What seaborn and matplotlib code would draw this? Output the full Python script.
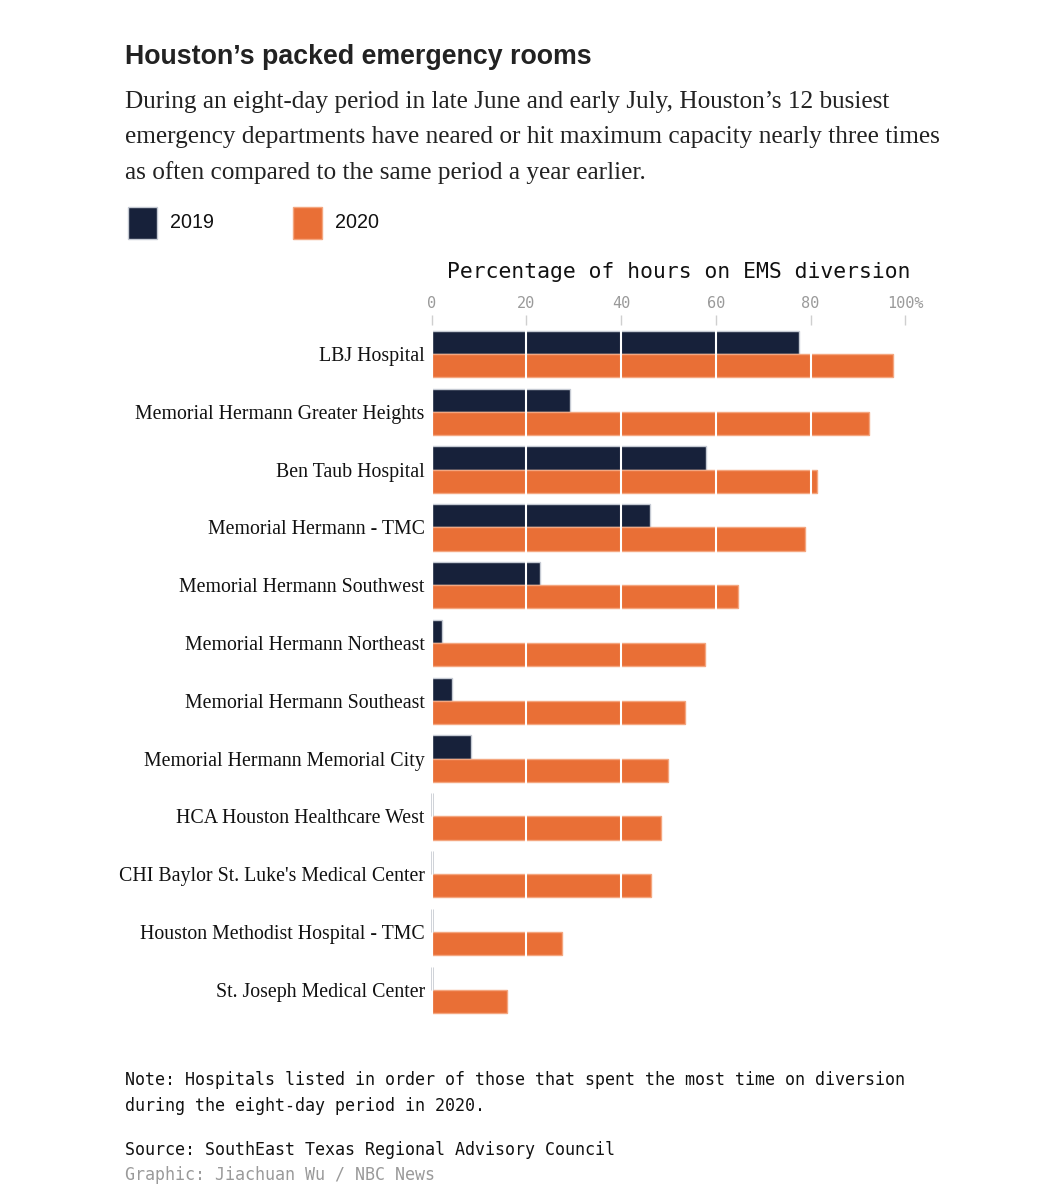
import matplotlib
matplotlib.use("Agg")
import matplotlib.pyplot as plt
import seaborn as sns
import pandas as pd
from matplotlib.patches import Rectangle

hospitals = [
    "LBJ Hospital",
    "Memorial Hermann Greater Heights",
    "Ben Taub Hospital",
    "Memorial Hermann - TMC",
    "Memorial Hermann Southwest",
    "Memorial Hermann Northeast",
    "Memorial Hermann Southeast",
    "Memorial Hermann Memorial City",
    "HCA Houston Healthcare West",
    "CHI Baylor St. Luke's Medical Center",
    "Houston Methodist Hospital - TMC",
    "St. Joseph Medical Center",
]
values_2019 = [77.6, 29.3, 58.0, 46.0, 22.9, 2.2, 4.3, 8.4, 0, 0, 0, 0]
values_2020 = [97.5, 92.4, 81.4, 78.9, 64.6, 57.8, 53.5, 50.0, 48.4, 46.3, 27.6, 15.9]
years = ["2019", "2020"]
tick_values = [0, 20, 40, 60, 80, 100]
tick_labels = ["0", "20", "40", "60", "80", "100%"]

C19 = "#17213a"
C20 = "#e96f36"
E19 = "#c5cad3"
E20 = "#f4a67f"

df = pd.DataFrame({
    "hospital": hospitals * 2,
    "year": [years[0]] * len(hospitals) + [years[1]] * len(hospitals),
    "value": values_2019 + values_2020,
})

W, H = 1047, 1191
fig = plt.figure(figsize=(W / 100, H / 100), dpi=100)
fig.patch.set_facecolor("white")

def fx(x):
    return x / W

def fy(y):
    return 1 - y / H

ax_left, ax_right, ax_top, ax_bot = 431.7, 905.2, 325.1, 1018.7
ax = fig.add_axes([fx(ax_left), fy(ax_bot), (ax_right - ax_left) / W, (ax_bot - ax_top) / H])

sns.barplot(data=df, y="hospital", x="value", hue="year", order=hospitals,
            hue_order=years, palette={years[0]: C19, years[1]: C20},
            orient="h", width=0.8, ax=ax, legend=False, saturation=1)

for cont, ec in zip(ax.containers, [E19, E20]):
    for bar in cont:
        bar.set_edgecolor(ec)
        bar.set_linewidth(1.0)
        bar.set_zorder(2)
# zero-valued 2019 bars appear as a thin gray stub at the bar's position
for bar, v in zip(ax.containers[0], values_2019):
    if v == 0:
        y0 = bar.get_y()
        ax.vlines(bar.get_x(), y0, y0 + bar.get_height(), color="#c3c7ce",
                  linewidth=1.8, zorder=2, clip_on=False)

ax.set_xlim(0, 100)
ax.set_ylim(11.5, -0.5)
for s in ax.spines.values():
    s.set_visible(False)
ax.set_facecolor("none")

ax.xaxis.tick_top()
ax.set_xticks(tick_values)
ax.set_xticklabels(tick_labels, family="DejaVu Sans Mono", fontsize=11, color="#9a9a9a")
ax.tick_params(axis="x", length=7, width=1, color="#cfcfcf", pad=3)
ax.tick_params(axis="y", length=0, pad=5)
for lab in ax.get_yticklabels():
    lab.set_family("Liberation Serif")
    lab.set_fontsize(14.3)
    lab.set_color("#111111")
ax.set_xlabel("")
ax.set_ylabel("")

ax.grid(axis="x", color="white", linewidth=1.5, zorder=3)
ax.grid(axis="y", visible=False)
ax.set_axisbelow(False)

# Axis title
fig.text(fx(678.5), fy(272), "Percentage of hours on EMS diversion",
         family="DejaVu Sans Mono", fontsize=15.4, color="#111111",
         ha="center", va="center")

# Title and subtitle
fig.text(fx(125), fy(64), "Houston\u2019s packed emergency rooms",
         family=["Liberation Sans Narrow", "Liberation Sans"], fontweight="bold",
         fontsize=19.3, color="#222222", ha="left", va="baseline")
sub = ["During an eight-day period in late June and early July, Houston\u2019s 12 busiest",
       "emergency departments have neared or hit maximum capacity nearly three times",
       "as often compared to the same period a year earlier."]
for i, line in enumerate(sub):
    fig.text(fx(125), fy(108 + 35.5 * i), line, family="Liberation Serif",
             fontsize=18.2, color="#222222", ha="left", va="baseline")

# Legend
for x0, col, ec, lab in [(128, C19, E19, years[0]), (293, C20, E20, years[1])]:
    fig.patches.append(Rectangle((fx(x0), fy(239)), 29 / W, 32 / H,
                                 transform=fig.transFigure, facecolor=col,
                                 edgecolor=ec, linewidth=1))
    fig.text(fx(x0 + 42), fy(222), lab, family="Liberation Sans", fontsize=14.2,
             color="#111111", ha="left", va="center")

# Notes
mono = "DejaVu Sans Mono"
fs = 12.0
fig.text(fx(125), fy(1085), "Note: Hospitals listed in order of those that spent the most time on diversion",
         family=mono, fontsize=fs, color="#111111", ha="left", va="baseline")
fig.text(fx(125), fy(1111), "during the eight-day period in 2020.",
         family=mono, fontsize=fs, color="#111111", ha="left", va="baseline")
fig.text(fx(125), fy(1155), "Source: SouthEast Texas Regional Advisory Council",
         family=mono, fontsize=fs, color="#111111", ha="left", va="baseline")
fig.text(fx(125), fy(1180), "Graphic: Jiachuan Wu / NBC News",
         family=mono, fontsize=fs, color="#9a9a9a", ha="left", va="baseline")

fig.savefig("out.png", dpi=100, facecolor="white")
